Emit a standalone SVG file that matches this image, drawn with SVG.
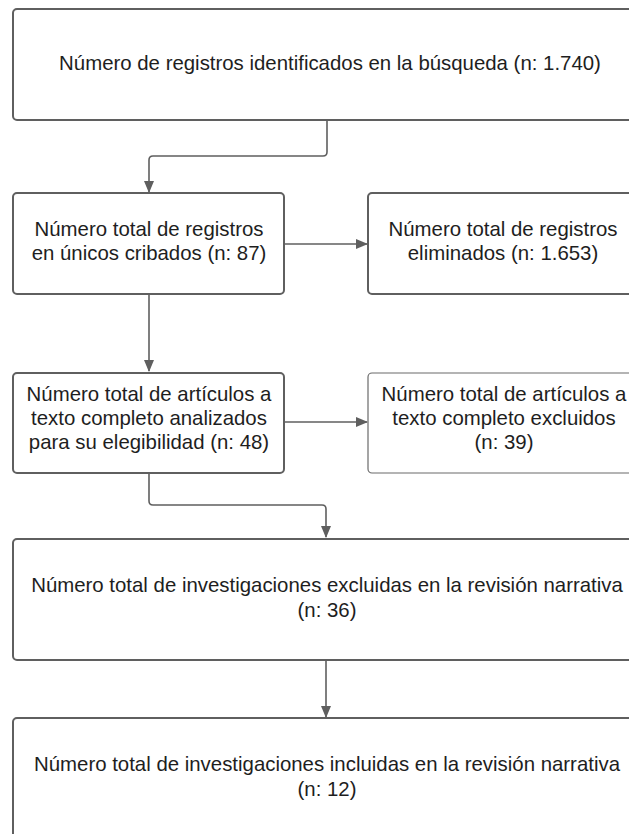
<svg xmlns="http://www.w3.org/2000/svg" width="629" height="834" viewBox="0 0 629 834">
<defs>
<style>
.box{fill:#ffffff;stroke:#5f5f5f;stroke-width:2}
.thin{fill:#ffffff;stroke:#6a6a6a;stroke-width:1.2}
.lbl{font-family:"Liberation Sans",Arial,sans-serif;font-size:20.4px;fill:#1e1e1e;text-anchor:middle}
.con{fill:none;stroke:#5f5f5f;stroke-width:1.6}
</style>
<marker id="ah" markerWidth="12" markerHeight="10" refX="11" refY="5" orient="auto" markerUnits="userSpaceOnUse">
<path d="M0,0 L12,5 L0,10 Z" fill="#5f5f5f"/>
</marker>
</defs>
<rect width="629" height="834" fill="#ffffff"/>
<g id="connectors">
<path class="con" d="M327,120 V152 Q327,156 323,156 H153 Q149,156 149,160 V192" marker-end="url(#ah)"/>
<path class="con" d="M285,244 H367" marker-end="url(#ah)"/>
<path class="con" d="M149,295 V371" marker-end="url(#ah)"/>
<path class="con" d="M285,422 H367" marker-end="url(#ah)"/>
<path class="con" d="M149,473 V501 Q149,505 153,505 H322 Q326,505 326,509 V537" marker-end="url(#ah)"/>
<path class="con" d="M326,660 V717" marker-end="url(#ah)"/>
</g>
<g id="n1">
<rect class="box" x="13" y="9" width="640" height="111" rx="4"/>
<text class="lbl" x="330" y="70">Número de registros identificados en la búsqueda (n: 1.740)</text>
</g>
<g id="n2">
<rect class="box" x="13" y="193" width="271" height="101" rx="4"/>
<text class="lbl" x="149" y="236">Número total de registros</text>
<text class="lbl" x="149" y="260">en únicos cribados (n: 87)</text>
</g>
<g id="n3">
<rect class="box" x="368" y="193" width="272" height="101" rx="4"/>
<text class="lbl" x="503" y="236">Número total de registros</text>
<text class="lbl" x="503" y="260">eliminados (n: 1.653)</text>
</g>
<g id="n4">
<rect class="box" x="13" y="373" width="271" height="100" rx="4"/>
<text class="lbl" x="149" y="401">Número total de artículos a</text>
<text class="lbl" x="149" y="425">texto completo analizados</text>
<text class="lbl" x="149" y="449">para su elegibilidad (n: 48)</text>
</g>
<g id="n5">
<rect class="thin" x="368" y="373" width="272" height="100" rx="4"/>
<text class="lbl" x="504" y="401">Número total de artículos a</text>
<text class="lbl" x="504" y="425">texto completo excluidos</text>
<text class="lbl" x="504" y="449">(n: 39)</text>
</g>
<g id="n6">
<rect class="box" x="13" y="539" width="628" height="121" rx="4"/>
<text class="lbl" x="327" y="592">Número total de investigaciones excluidas en la revisión narrativa</text>
<text class="lbl" x="327" y="617">(n: 36)</text>
</g>
<g id="n7">
<rect class="box" x="13" y="718" width="628" height="140" rx="4"/>
<text class="lbl" x="327" y="771">Número total de investigaciones incluidas en la revisión narrativa</text>
<text class="lbl" x="327" y="796">(n: 12)</text>
</g>
</svg>
